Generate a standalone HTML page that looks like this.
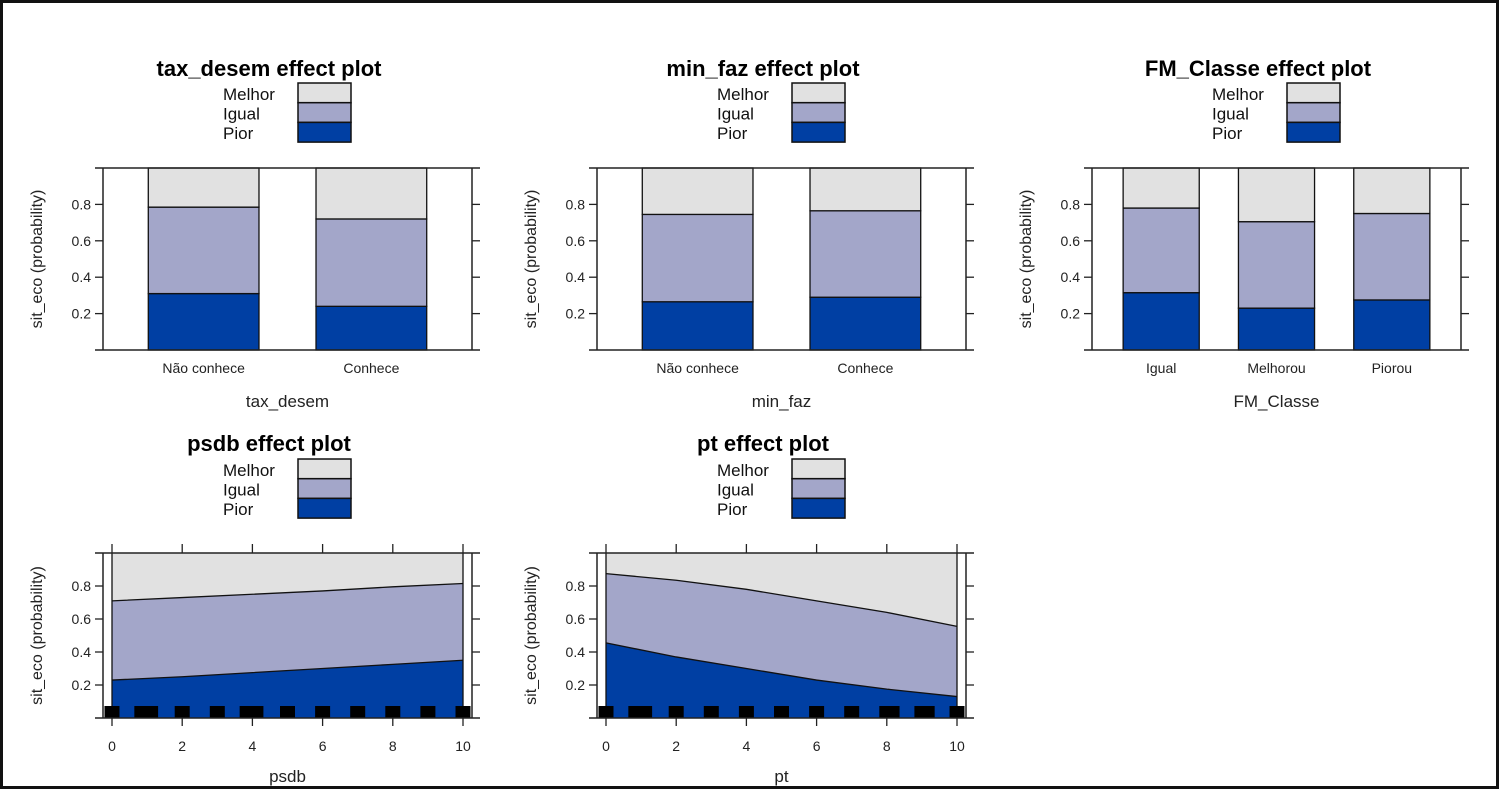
<!DOCTYPE html>
<html><head><meta charset="utf-8">
<style>
html,body{margin:0;padding:0;background:#fff;}
svg{display:block;font-family:"Liberation Sans",Arial,sans-serif;}
</style></head>
<body>
<svg id="chart" width="1500" height="790" viewBox="0 0 1500 790">
<rect x="1.5" y="1.5" width="1496" height="786" fill="#fff" stroke="#111" stroke-width="3"/>
</svg>
<script>
// ---- data ----
const levels = ["Melhor","Igual","Pior"];
const taxCats = ["Não conhece","Conhece"];
const taxPior = [0.31,0.24];
const taxCum = [0.785,0.72];
const minCats = ["Não conhece","Conhece"];
const minPior = [0.265,0.29];
const minCum = [0.745,0.765];
const fmCats = ["Igual","Melhorou","Piorou"];
const fmPior = [0.315,0.23,0.275];
const fmCum = [0.78,0.705,0.75];
const contX = [0,2,4,6,8,10];
const psdbPior = [0.23,0.25,0.275,0.30,0.325,0.35];
const psdbCum = [0.71,0.73,0.75,0.77,0.795,0.815];
const ptPior = [0.455,0.37,0.30,0.23,0.175,0.13];
const ptCum = [0.875,0.835,0.78,0.71,0.64,0.555];
const psdbRug = [0,0.85,1.1,2,3,3.85,4.1,5,6,7,8,9,10];
const ptRug = [0,0.85,1.1,2,3,4,5,6,7,8,8.15,9,9.15,10];
const yTicks = [0.2,0.4,0.6,0.8];
const xTicks = [0,2,4,6,8,10];

const C = {light:"#e1e1e1", mid:"#a3a6c9", dark:"#003fa3", line:"#222"};
const svg = document.getElementById('chart');
const NS = "http://www.w3.org/2000/svg";
function mk(tag, attrs, parent){
  const e = document.createElementNS(NS, tag);
  for (const k in attrs) e.setAttribute(k, attrs[k]);
  (parent||svg).appendChild(e);
  return e;
}
function txt(s, attrs, parent){ const e = mk('text', attrs, parent); e.textContent = s; return e; }

function frame(g, b, yScale, title, titleX, titleY, legX, legY){
  const t = txt(title,{x:titleX,y:titleY,'text-anchor':'middle','font-size':22,'font-weight':'bold',fill:'#000'},g);
  
  
  const sw = [C.light,C.mid,C.dark];
  levels.forEach((l,i)=>{
    const lt = txt(l,{x:legX,y:legY+17+i*19.5,'font-size':17,fill:'#111'},g);
    
    
    const r = mk('rect',{x:legX+75,y:legY+i*19.7,width:53,height:19.7,fill:sw[i],stroke:'#111','stroke-width':1.5},g);
    
    
  });
  yTicks.forEach(v=>{
    const y = yScale(v);
    mk('line',{x1:b.x0-8,x2:b.x0,y1:y,y2:y,stroke:C.line,'stroke-width':1.3},g);
    mk('line',{x1:b.x1,x2:b.x1+8,y1:y,y2:y,stroke:C.line,'stroke-width':1.3},g);
    const lab = txt(v.toFixed(1),{x:b.x0-12,y:y+5,'text-anchor':'end','font-size':14,fill:'#222'},g);
    
    
  });
  const yt = txt('sit_eco (probability)',{x:0,y:0,'text-anchor':'middle','font-size':16,fill:'#222',
    transform:`translate(${b.x0-61},${(b.y0+b.y1)/2}) rotate(-90)`},g);
  
  
}
function boxLines(g,b){
  mk('line',{x1:b.x0-8,x2:b.x1+8,y1:b.y0,y2:b.y0,stroke:C.line,'stroke-width':1.5},g);
  mk('line',{x1:b.x0-8,x2:b.x1+8,y1:b.y1,y2:b.y1,stroke:C.line,'stroke-width':1.5},g);
  mk('line',{x1:b.x0,x2:b.x0,y1:b.y0,y2:b.y1,stroke:C.line,'stroke-width':1.5},g);
  mk('line',{x1:b.x1,x2:b.x1,y1:b.y0,y2:b.y1,stroke:C.line,'stroke-width':1.5},g);
}

function barPanel(name, off, cats, pior, cum, xTitle){
  const g = mk('g',{});
  
  
  const b = {x0:103+off,x1:472+off,y0:168,y1:350};
  const yS = v => b.y1 - v*(b.y1-b.y0);
  const lo = 0.4, hi = cats.length+0.6;
  const xS = v => b.x0 + (v-lo)/(hi-lo)*(b.x1-b.x0);
  frame(g,b,yS,name+' effect plot',269+off,76,223+off,83);
  const bw = 0.66;
  cats.forEach((c,i)=>{
    const xa = xS(i+1-bw/2), xb = xS(i+1+bw/2);
    const segs = [[0,pior[i],C.dark,'pior'],[pior[i],cum[i],C.mid,'igual'],[cum[i],1,C.light,'melhor']];
    segs.forEach(s=>{
      const r = mk('rect',{x:xa,y:yS(s[1]),width:xb-xa,height:yS(s[0])-yS(s[1]),fill:s[2],stroke:'#111','stroke-width':1.3},g);
      
      
    });
    const l = txt(c,{x:xS(i+1),y:373,'text-anchor':'middle','font-size':14,fill:'#222'},g);
    
    
  });
  boxLines(g,b);
  const xt = txt(xTitle,{x:(b.x0+b.x1)/2,y:407,'text-anchor':'middle','font-size':17,fill:'#222'},g);
  
  
}

function areaPanel(name, off, pior, cum, rug){
  const g = mk('g',{});
  
  
  const b = {x0:103+off,x1:472+off,y0:553,y1:718};
  const yS = v => b.y1 - v*(b.y1-b.y0);
  const xS = v => b.x0 + 9 + v*35.1;
  frame(g,b,yS,name+' effect plot',269+off,451,223+off,459);
  const pts = (arr)=>contX.map((x,i)=>xS(x)+','+yS(arr[i]));
  const top = contX.map(x=>xS(x)+','+yS(1));
  const base = contX.map(x=>xS(x)+','+yS(0));
  const a1 = mk('polygon',{points:pts(pior).concat(base.slice().reverse()).join(' '),fill:C.dark},g);
  
  
  const a2 = mk('polygon',{points:pts(cum).concat(pts(pior).reverse()).join(' '),fill:C.mid},g);
  
  
  const a3 = mk('polygon',{points:top.concat(pts(cum).reverse()).join(' '),fill:C.light},g);
  
  
  const l1 = mk('polyline',{points:pts(pior).join(' '),fill:'none',stroke:'#111','stroke-width':1.3},g);
  
  
  const l2 = mk('polyline',{points:pts(cum).join(' '),fill:'none',stroke:'#111','stroke-width':1.3},g);
  
  
  [0,10].forEach(x=>mk('line',{x1:xS(x),x2:xS(x),y1:b.y0,y2:b.y1,stroke:'#111','stroke-width':1.3},g));
  rug.forEach(v=>{
    const r = mk('rect',{x:xS(v)-7.5,y:b.y1-12,width:15,height:12,fill:'#000'},g);
    
    
  });
  boxLines(g,b);
  xTicks.forEach(v=>{
    mk('line',{x1:xS(v),x2:xS(v),y1:b.y1,y2:b.y1+8,stroke:C.line,'stroke-width':1.3},g);
    mk('line',{x1:xS(v),x2:xS(v),y1:b.y0-9,y2:b.y0,stroke:C.line,'stroke-width':1.3},g);
    const l = txt(String(v),{x:xS(v),y:751,'text-anchor':'middle','font-size':14,fill:'#222'},g);
    
    
  });
  const xt = txt(name,{x:(b.x0+b.x1)/2,y:782,'text-anchor':'middle','font-size':17,fill:'#222'},g);
  
  
}

barPanel('tax_desem',0,taxCats,taxPior,taxCum,'tax_desem');
barPanel('min_faz',494,minCats,minPior,minCum,'min_faz');
barPanel('FM_Classe',989,fmCats,fmPior,fmCum,'FM_Classe');
areaPanel('psdb',0,psdbPior,psdbCum,psdbRug);
areaPanel('pt',494,ptPior,ptCum,ptRug);
</script>
</body></html>
